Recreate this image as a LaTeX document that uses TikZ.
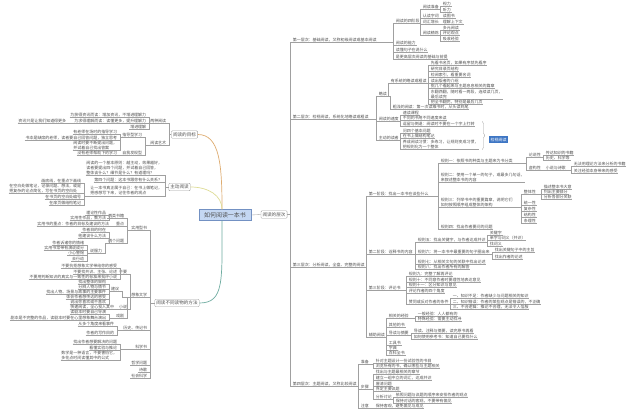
\documentclass[tikz,border=0pt]{standalone}
\usepackage{fontspec}
\setmainfont{Noto Sans CJK SC}
\usetikzlibrary{decorations.pathreplacing}
\definecolor{txt}{RGB}{80,80,80}
\definecolor{lnk}{RGB}{160,160,160}
\definecolor{rootfill}{RGB}{196,215,242}
\definecolor{rootline}{RGB}{115,145,195}
\definecolor{goalcurve}{RGB}{222,172,112}
\definecolor{activecurve}{RGB}{222,220,150}
\definecolor{methodcurve}{RGB}{110,172,160}
\definecolor{notefill}{RGB}{62,118,196}
\tikzset{
  link/.style={draw=lnk,line width=.35},
  tp/.style={font=\fontsize{4}{5}\selectfont,text=txt,inner xsep=.6,inner ysep=.5,
    append after command={(\tikzlastnode.south west) edge[link] (\tikzlastnode.south east)}},
  rt/.style={tp,anchor=west}, lt/.style={tp,anchor=east},
  branch/.style={draw=lnk,fill=white,rounded corners=1,inner sep=1.6,font=\fontsize{4.6}{5}\selectfont,text=txt},
  notebox/.style={fill=notefill,text=white,inner xsep=1.5,inner ysep=1.2,font=\fontsize{4}{5}\selectfont,anchor=west},
}

\begin{document}
\begin{tikzpicture}[x=1bp,y=-1bp]
\fill[white] (0,0) rectangle (640,412);
\useasboundingbox (0,0) rectangle (640,412);

\node[draw=rootline,fill=rootfill,inner xsep=5,inner ysep=2.6,font=\fontsize{6}{7}\selectfont,text=txt] (root) at (225,215) {如何阅读一本书};
\node[branch] (levels) at (274,214.5) {阅读的层次};
\node[branch] (goal) at (184.5,134.5) {阅读的目标};
\node[branch] (active) at (179.5,187) {主动阅读};
\node[branch] (method) at (177,303) {阅读不同读物的方法};
\draw[goalcurve,line width=.7] ([xshift=-3pt]root.north) .. controls +(0,-45) and +(22,0) .. (goal.east);
\draw[activecurve,line width=.7] ([xshift=-3pt]root.north) .. controls +(0,-14) and +(18,0) .. (active.east);
\draw[methodcurve,line width=.7] ([xshift=-3pt]root.south) .. controls +(0,60) and +(25,0) .. (method.east);
\draw[link] (root.east) -- (levels.west);

% left: goal
\node[lt] (a1) at (167,121) {两种阅读};
\node[lt] (a1a) at (147,115) {为获得资讯而读：增加资讯，不增进理解力};
\node[lt] (a1b) at (147,121) {为求得理解而读：读懂更多，提升理解力};
\node[lt] (a1b1) at (67,121) {资讯只是让我们知道得更多};
\node[lt] (a1c) at (147,127) {增进理解};
\node[lt] (a2) at (167,143) {阅读艺术};
\node[lt] (a2a) at (143,135) {指导型学习};
\node[lt] (a2a1) at (118,132) {有老师在场时的指导学习};
\node[lt] (a2a2) at (118,138) {书本是缺席的老师，读者要自己回答问题，独立思考};
\node[lt,align=left] (a2a3) at (118,145) {阅读时要不断提出问题，\\并试着自己找出答案};
\node[lt] (a2b) at (143,153) {自我发现型};
\node[lt] (a2b1) at (118,153) {没有老师帮助下的学习};

% left: active
\node[lt,align=left] (b1) at (163,168) {阅读的一个基本原则：越主动，效果越好，\\读者要提出四个问题，并试着自己回答，\\整体谈什么？细节是什么？有道理吗？};
\node[lt] (b2) at (163,180) {第四个问题：这本书跟你有什么关系？};
\node[lt,align=left] (b3) at (163,191) {让一本书真正属于自己：在书上做笔记，\\把感想写下来，记住作者的观点};
\node[lt] (b3a) at (82,181) {画底线，在重点下画线};
\node[lt,align=left] (b3b) at (82,188.5) {在空白处做笔记，记录问题、想法，或是\\把复杂的论点简化，写在书页的空白处};
\node[lt] (b3c) at (82,197) {在书页的空白处编号};
\node[lt] (b3d) at (82,203) {在扉页做结构笔记};

% left: method
\node[lt] (c1) at (148,228) {实用型书};
\node[lt] (c1a) at (125,216) {两类书籍};
\node[lt] (c1a1) at (107,213) {理论性作品};
\node[lt] (c1a2) at (107,218) {实用性作品，教方法};
\node[lt] (c1b) at (125,224) {重点};
\node[lt] (c1b1) at (110,224) {实用书的重点：作者的目标及建议的方法};
\node[lt] (c1c) at (125,241) {两个问题};
\node[lt] (c1c1) at (107,230) {作者目的何在};
\node[lt] (c1c2) at (107,236) {他建议什么方法};
\node[lt] (c1c3) at (103,251) {说服力};
\node[lt] (c1c3a) at (85,243) {作者诉诸你的情绪};
\node[lt] (c1c3b) at (85,248) {实用书常带有演说成分};
\node[lt] (c1c3c) at (85,253) {小心警惕};
\node[lt] (c1c3d) at (85,259) {去行动};
\node[lt] (c2) at (148,295) {想象文学};
\node[lt] (c2a) at (128,272) {不要};
\node[lt] (c2a1) at (118,266) {不要抗拒想象文学带给你的感受};
\node[lt] (c2a2) at (118,272) {不要找共识、主张、论述};
\node[lt] (c2a3) at (118,277) {不要用判断知识的真实与一致性的标准来批评小说};
\node[lt] (c2b) at (120,289) {建议};
\node[lt] (c2b1) at (107,282) {找出整体的架构};
\node[lt] (c2b2) at (107,287) {分辨人物与情节};
\node[lt] (c2b3) at (107,292) {找出人物、场景与故事的主要事件};
\node[lt] (c2b4) at (107,297) {体会作者想传达的感受};
\node[lt] (c2b5) at (107,302) {说出你喜欢或不喜欢};
\node[lt] (c2c) at (128,307) {小说};
\node[lt] (c2c1) at (115,307) {快速阅读，全心投入其中};
\node[lt] (c2d) at (125,316) {戏剧};
\node[lt] (c2d1) at (107,312) {读剧本时要自己导演};
\node[lt] (c2d2) at (107,318) {剧本是不完整的作品，读剧本时要在心里想象舞台演出};
\node[lt] (c3) at (148,328) {历史、传记书};
\node[lt] (c3a) at (115,324) {从多个角度来看事件};
\node[lt] (c3b) at (115,333) {作者的写作目的};
\node[lt] (c4) at (148,347) {科学书};
\node[lt] (c4a) at (118,342) {找出作者想要解决的问题};
\node[lt] (c4b) at (118,348) {看懂实验与推论};
\node[lt,align=left] (c4c) at (118,355.5) {数学是一种语言，不要害怕它，\\多花点时间读懂其中的公式};
\node[lt] (c5) at (148,363) {哲学问题};
\node[lt] (c6) at (148,370) {诗歌};
\node[lt] (c7) at (148,376) {社会科学};

% right: levels
\node[rt] (r1) at (292,40) {第一层次：基础阅读，又称初级阅读或基本阅读};
\node[rt] (r1a) at (395,21) {阅读的四阶段};
\node[rt] (r1a1) at (422,7) {阅读准备};
\node[rt] (r1a1a) at (442,4) {视力};
\node[rt] (r1a1b) at (442,10) {听力};
\node[rt] (r1a2) at (422,16) {认读字词};
\node[rt] (r1a2a) at (442,16) {读图书};
\node[rt] (r1a3) at (422,22) {词汇增长};
\node[rt] (r1a3a) at (442,22) {理解上下文};
\node[rt] (r1a4) at (422,33) {阅读精炼};
\node[rt] (r1a4a) at (442,28) {多元阅读};
\node[rt] (r1a4b) at (442,33) {评论观点};
\node[rt] (r1a4c) at (442,39) {吸收经验};
\node[rt] (r1b) at (395,43) {阅读的能力};
\node[rt] (r1c) at (395,50) {读懂句子在说什么};
\node[rt] (r1d) at (395,57) {是更高层次阅读的基础与前提};

\node[rt] (r2) at (292,117) {第二层次：检视阅读，系统化地略读或粗读};
\node[rt] (r2a) at (378,94) {略读};
\node[rt] (r2a1) at (390,81) {有系统的略读或粗读};
\node[rt] (r2a1a) at (430,63) {先看书名页，如果有序就先看序};
\node[rt] (r2a1b) at (430,69) {研究目录页结构};
\node[rt] (r2a1c) at (430,75) {检阅索引，看重要名词};
\node[rt] (r2a1d) at (430,81) {读出版者的介绍};
\node[rt] (r2a1e) at (430,86) {挑几个看起来与主题息息相关的篇章};
\node[rt,align=left] (r2a1f) at (430,94.5) {东翻西翻，随时看一两段，连续读几页，\\最后读完};
\node[rt] (r2a1g) at (430,102) {把全书翻完，特别是最后几页};
\node[rt] (r2a2) at (392,107) {粗浅的阅读：第一次读难书时，从头读到尾};
\node[rt] (r2b) at (378,119) {阅读的速度};
\node[rt] (r2b1) at (402,113) {速读课程};
\node[rt] (r2b2) at (402,118) {不同的书用不同速度来读};
\node[rt] (r2b3) at (402,124) {逗留与倒退：阅读时不要在一个字上打转};
\node[rt] (r2c) at (378,138) {主动的读者};
\node[rt] (r2c1) at (402,131) {问四个基本问题};
\node[rt] (r2c2) at (402,136) {在书上做结构笔记};
\node[rt,align=left] (r2c3) at (402,144.5) {养成阅读习惯：多练习，让规则变成习惯，\\把规则化为一个整体};
\coordinate (bt) at (r2b3.north -| r2c3.east);
\draw[link,decorate,decoration={brace,amplitude=2.5pt}] ([xshift=3pt]bt) -- ([xshift=3pt]r2c3.south east);
\node[notebox] (sum) at (489,139.5) {检视阅读};

\node[rt] (r3) at (292,265) {第三层次：分析阅读，全盘、完整的阅读};
\node[rt] (r3a) at (368,194) {第一阶段：找出一本书在谈些什么};
\node[rt] (s1) at (440,161) {规则一：依照书的种类与主题来为书分类};
\node[rt] (s1a) at (528,155) {论说性};
\node[rt] (s1a1) at (545,153) {传达知识的书籍};
\node[rt] (s1a2) at (545,158) {历史、科学等};
\node[rt] (s1b) at (528,168) {虚构性};
\node[rt] (s1b1) at (545,168) {小说与诗歌};
\node[rt] (s1b1a) at (573,164) {无法用理论方法来分析的书籍};
\node[rt] (s1b1b) at (573,171) {关注经验本身带来的感受};
\node[rt,align=left] (s2) at (440,177.5) {规则二：使用一个单一的句子，或最多几句话，\\来叙述整本书的内容};
\node[rt,align=left] (s3) at (440,202.5) {规则三：列举书中的重要篇章，说明它们\\如何按照顺序组成整体的架构};
\node[rt] (t1) at (523,192) {整体性};
\node[rt] (t1a) at (543,187) {描述整本书大意};
\node[rt] (t1b) at (543,192) {列出主要部分};
\node[rt] (t1c) at (543,197) {分析各部分关联};
\node[rt] (t2) at (523,203) {统一性};
\node[rt] (t3) at (523,209) {复杂性};
\node[rt] (t4) at (523,215) {结构性};
\node[rt] (t5) at (523,221) {条理性};
\node[rt] (s4) at (440,227) {规则四：找出作者要问的问题};
\node[rt] (r3b) at (368,252) {第二阶段：诠释书的内容};
\node[rt] (v1) at (417,240) {规则五：找出关键字，与作者达成共识};
\node[rt] (v1a) at (489,233) {关键字};
\node[rt] (v1b) at (489,238) {单字与词义（共识）};
\node[rt] (v1c) at (489,244) {找词义};
\node[rt] (v2) at (417,252) {规则六：将一本书中最重要的句子圈出来};
\node[rt] (v2a) at (494,250) {找出关键句子中的主旨};
\node[rt] (v2b) at (494,257) {找出作者的论述};
\node[rt] (v3) at (417,262) {规则七：从相关文句的关联中找出论述};
\node[rt] (v4) at (417,267) {规则八：找出作者所有的解答};
\node[rt] (r3c) at (368,288) {第三阶段：评论书};
\node[rt] (w1) at (408,274) {规则九：完整了解再评论};
\node[rt] (w2) at (408,280) {规则十：不同意作者时要理性地表达意见};
\node[rt] (w3) at (408,285) {规则十一：区分知识与意见};
\node[rt] (w4) at (408,291) {评论作者的四个角度};
\node[rt] (w5) at (408,302) {赞同或反对作者的条件};
\node[rt] (w5a) at (452,296) {一、知识不足：作者缺少与问题相关的知识};
\node[rt] (w5b) at (452,302) {二、知识错误：作者的某些观点是错误的，不正确};
\node[rt] (w5c) at (452,307) {三、不合逻辑：推论不合理，无法令人信服};
\node[rt] (r3d) at (368,335) {辅助阅读};
\node[rt] (x1) at (388,316) {相关的经验};
\node[rt] (x1a) at (417,314) {一般经验：人人都有的};
\node[rt] (x1b) at (417,319) {特殊经验：需要主动找寻};
\node[rt] (x2) at (388,325) {其他的书};
\node[rt] (x3) at (388,333) {导读与摘要};
\node[rt] (x3a) at (413,331) {导读、注释与摘要，读完原书再看};
\node[rt] (x3b) at (413,337) {如何使用参考书：知道自己要找什么};
\node[rt] (x4) at (388,343) {工具书};
\node[rt] (x5) at (388,348) {字典};
\node[rt] (x6) at (388,353) {百科全书};

\node[rt] (r4) at (292,384) {第四层次：主题阅读，又称比较阅读};
\node[rt] (y1) at (360,362) {准备};
\node[rt] (y1a) at (375,361) {针对主题设计一份试验性的书目};
\node[rt] (y1b) at (375,366) {浏览所有的书，确认哪些与主题相关};
\node[rt] (y2) at (360,387) {步骤};
\node[rt] (y2a) at (375,372) {找出与主题最相关的章节};
\node[rt] (y2b) at (375,378) {建立一组中立的词汇，达成共识};
\node[rt] (y2c) at (375,384) {厘清问题};
\node[rt] (y2d) at (375,389) {界定主要议题};
\node[rt] (y2e) at (375,397) {分析讨论};
\node[rt] (y2e1) at (395,395) {依照问题与议题的顺序来安排作者的观点};
\node[rt] (y2e2) at (395,401) {保持对话的客观，不要带有偏见};
\node[rt] (y3) at (360,406) {注意};
\node[rt] (y3a) at (375,406) {保持客观，避免偏见与成见};

% connectors
\foreach \c in {r1,r2,r3,r4}{\draw[link] (levels.east) -| ([xshift=-2pt]\c.south west) -- (\c.south west);}
\foreach \c in {a1,a2}{\draw[link] (goal.west) -| ([xshift=2pt]\c.south east) -- (\c.south east);}
\foreach \c in {b1,b2,b3}{\draw[link] (active.west) -| ([xshift=2pt]\c.south east) -- (\c.south east);}
\foreach \c in {c1,c2,c3,c4,c5,c6,c7}{\draw[link] (method.west) -| ([xshift=2pt]\c.south east) -- (\c.south east);}
\foreach \p/\c in {a1/a1a,a1/a1b,a1/a1c,a1b/a1b1,a2/a2a,a2/a2b,a2a/a2a1,a2a/a2a2,a2a/a2a3,a2b/a2b1,
  b3/b3a,b3/b3b,b3/b3c,b3/b3d,c1/c1a,c1/c1b,c1/c1c,c1a/c1a1,c1a/c1a2,c1b/c1b1,c1c/c1c1,c1c/c1c2,c1c/c1c3,
  c1c3/c1c3a,c1c3/c1c3b,c1c3/c1c3c,c1c3/c1c3d,c2/c2a,c2/c2b,c2/c2c,c2/c2d,c2a/c2a1,c2a/c2a2,c2a/c2a3,
  c2b/c2b1,c2b/c2b2,c2b/c2b3,c2b/c2b4,c2b/c2b5,c2c/c2c1,c2d/c2d1,c2d/c2d2,c3/c3a,c3/c3b,c4/c4a,c4/c4b,c4/c4c}
  {\draw[link] (\p.south west) -| ([xshift=2pt]\c.south east) -- (\c.south east);}
\foreach \p/\c in {r1/r1a,r1/r1b,r1/r1c,r1/r1d,r1a/r1a1,r1a/r1a2,r1a/r1a3,r1a/r1a4,r1a1/r1a1a,r1a1/r1a1b,
  r1a2/r1a2a,r1a3/r1a3a,r1a4/r1a4a,r1a4/r1a4b,r1a4/r1a4c,r2/r2a,r2/r2b,r2/r2c,r2a/r2a1,r2a/r2a2,
  r2a1/r2a1a,r2a1/r2a1b,r2a1/r2a1c,r2a1/r2a1d,r2a1/r2a1e,r2a1/r2a1f,r2a1/r2a1g,r2b/r2b1,r2b/r2b2,r2b/r2b3,
  r2c/r2c1,r2c/r2c2,r2c/r2c3,r3/r3a,r3/r3b,r3/r3c,r3/r3d,r3a/s1,r3a/s2,r3a/s3,r3a/s4,s1/s1a,s1/s1b,
  s1a/s1a1,s1a/s1a2,s1b/s1b1,s1b1/s1b1a,s1b1/s1b1b,s3/t1,s3/t2,s3/t3,s3/t4,s3/t5,t1/t1a,t1/t1b,t1/t1c,
  r3b/v1,r3b/v2,r3b/v3,r3b/v4,v1/v1a,v1/v1b,v1/v1c,v2/v2a,v2/v2b,r3c/w1,r3c/w2,r3c/w3,r3c/w4,r3c/w5,
  w5/w5a,w5/w5b,w5/w5c,r3d/x1,r3d/x2,r3d/x3,r3d/x4,r3d/x5,r3d/x6,x1/x1a,x1/x1b,x3/x3a,x3/x3b,
  r4/y1,r4/y2,r4/y3,y1/y1a,y1/y1b,y2/y2a,y2/y2b,y2/y2c,y2/y2d,y2/y2e,y2e/y2e1,y2e/y2e2,y3/y3a}
  {\draw[link] (\p.south east) -| ([xshift=-2pt]\c.south west) -- (\c.south west);}
\end{tikzpicture}
\end{document}
